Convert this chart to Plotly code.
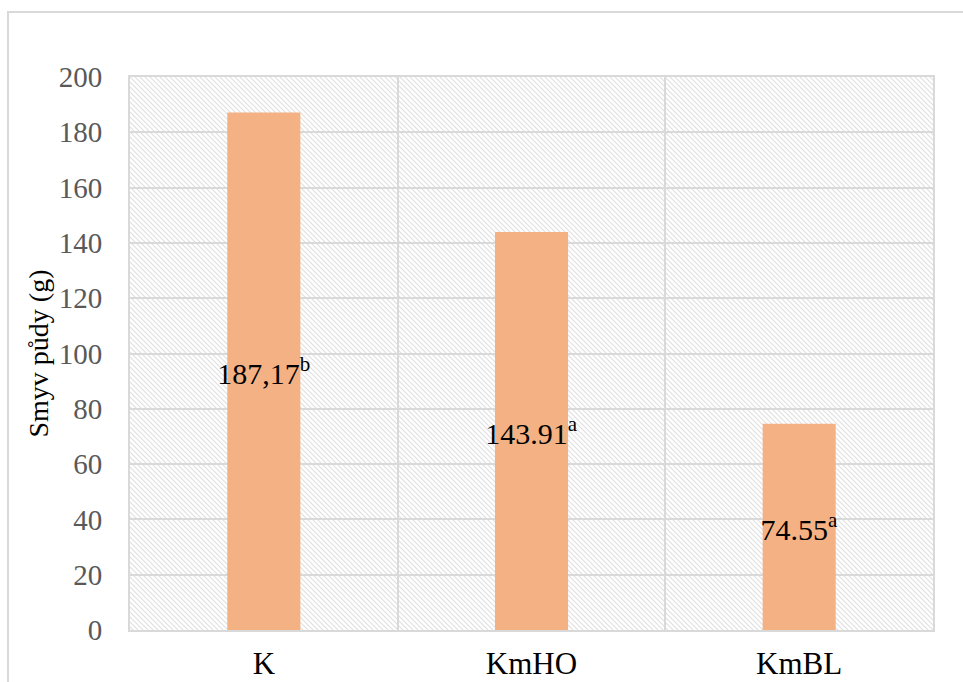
import base64
import plotly.graph_objects as go

# ---- data ----
categories = ["K", "KmHO", "KmBL"]
values = [187.17, 143.91, 74.55]
value_labels = ["187,17", "143.91", "74.55"]
significance = ["b", "a", "a"]
y_title = "Smyv půdy (g)"
y_max = 200
y_step = 20

# ---- styling ----
W, H = 963, 682
ML, MR, MT, MB = 130, 30, 77, 52
PW, PH = W - ML - MR, H - MT - MB
FONT = "Liberation Serif, Times New Roman, serif"
BAR_COLOR = "#F4B183"
GRID = "#d9d9d9"

texts = [f"{v}<sup>{s}</sup>" for v, s in zip(value_labels, significance)]

fig = go.Figure()
fig.add_trace(go.Bar(
    x=categories, y=values, width=0.273,
    marker=dict(color=BAR_COLOR, line=dict(width=0)),
    text=texts, textposition="inside", insidetextanchor="middle",
    constraintext="none", textangle=0,
    textfont=dict(family=FONT, size=30, color="black"),
    hoverinfo="skip",
))

# hatched plot-area background as an SVG image
svg = (f'<svg xmlns="http://www.w3.org/2000/svg" width="{PW}" height="{PH}">'
       '<defs><pattern id="p" width="5" height="5" patternUnits="userSpaceOnUse">'
       '<path d="M0,0 L5,5 M-1,4 L1,6 M4,-1 L6,1" stroke="#e0e0e0" stroke-width="1.2"/>'
       '</pattern></defs><rect width="100%" height="100%" fill="url(#p)"/></svg>')
src = "data:image/svg+xml;base64," + base64.b64encode(svg.encode()).decode()

fig.update_layout(
    width=W, height=H,
    margin=dict(l=ML, r=MR, t=MT, b=MB, autoexpand=False),
    paper_bgcolor="white", plot_bgcolor="rgba(0,0,0,0)",
    showlegend=False,
    uniformtext=dict(minsize=30, mode="show"),
    images=[dict(source=src, xref="paper", yref="paper", x=0, y=1,
                 sizex=1, sizey=1, sizing="stretch", layer="below",
                 xanchor="left", yanchor="top")],
    shapes=[dict(type="rect", xref="paper", yref="paper",
                 x0=(8 - ML) / PW, x1=1.2, y0=-0.3, y1=(H - MB - 12) / PH,
                 line=dict(color="#d9d9d9", width=2), fillcolor="rgba(0,0,0,0)",
                 layer="below")],
    xaxis=dict(
        type="category", tickson="boundaries", showgrid=True, automargin=False,
        gridcolor=GRID, gridwidth=2, ticks="",
        showline=True, linecolor=GRID, linewidth=2, mirror=True,
        tickfont=dict(family=FONT, size=31, color="black"),
        ticklabelstandoff=5,
    ),
    yaxis=dict(
        range=[0, y_max], dtick=y_step, tick0=0, showgrid=True, automargin=False,
        gridcolor=GRID, gridwidth=2, ticks="", zeroline=False,
        showline=True, linecolor=GRID, linewidth=2, mirror=True,
        tickfont=dict(family=FONT, size=29, color="#595959"),
        ticklabelstandoff=20,
        title=dict(text=y_title, font=dict(family=FONT, size=28, color="black"),
                   standoff=2),
    ),
)

fig.write_html(
    "out.html",
    config={"displayModeBar": False},
    post_script="document.body.style.margin='0';document.body.style.overflow='hidden';",
)
